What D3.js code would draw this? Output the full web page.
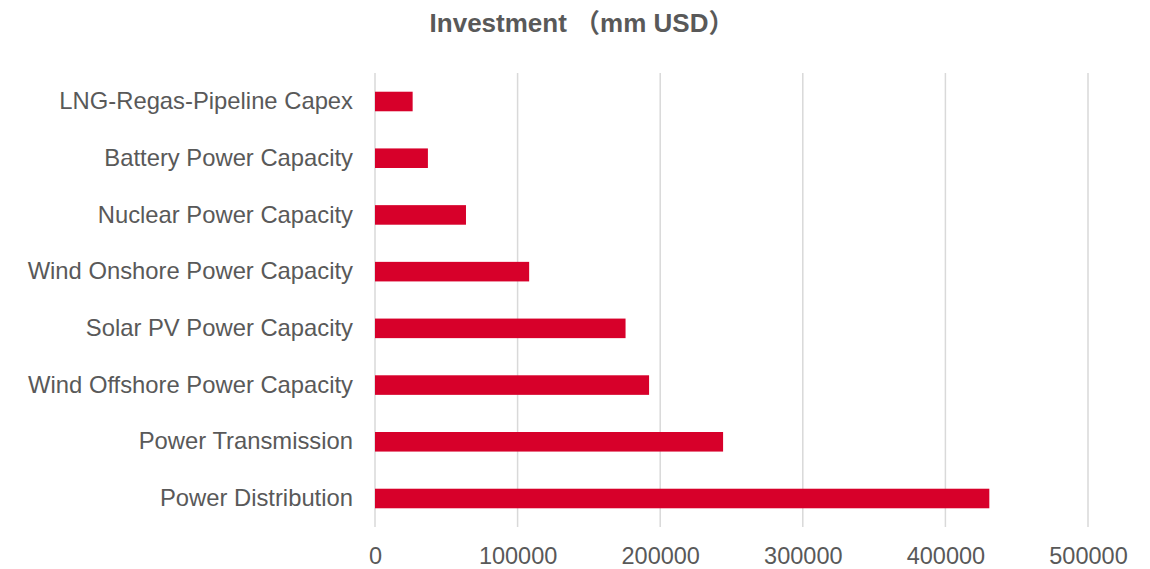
<!DOCTYPE html>
<html>
<head>
<meta charset="utf-8">
<script src="https://cdn.jsdelivr.net/npm/d3@7"></script>
<style>
  html, body { margin: 0; padding: 0; background: #fff; }
  svg { display: block; font-family: "Liberation Sans", Arial, "Noto Sans CJK SC", sans-serif; }
</style>
</head>
<body>
<svg id="chart" width="1150" height="569"></svg>
<script>
// Investment by category (mm USD), top to bottom
const categories = [
  "LNG-Regas-Pipeline Capex",
  "Battery Power Capacity",
  "Nuclear Power Capacity",
  "Wind Onshore Power Capacity",
  "Solar PV Power Capacity",
  "Wind Offshore Power Capacity",
  "Power Transmission",
  "Power Distribution"
];
const investment = [26400, 37100, 63800, 108100, 175700, 192200, 244100, 430800];
const xTicks = [0, 100000, 200000, 300000, 400000, 500000];
const title = "Investment \uFF08mm USD\uFF09";

const svg = d3.select("#chart");
const margin = { left: 375, right: 62, top: 73, bottom: 42 };
const W = 1150, H = 569;

const x = d3.scaleLinear().domain([0, 500000]).range([margin.left, W - margin.right]);
const y = d3.scaleBand().domain(categories).range([margin.top, H - margin.bottom]).paddingInner(0.655).paddingOuter(0.33);

// vertical gridlines
svg.append("g")
  .selectAll("line")
  .data(xTicks)
  .join("line")
  .attr("x1", d => x(d)).attr("x2", d => x(d))
  .attr("y1", margin.top).attr("y2", H - margin.bottom)
  .attr("stroke", "#d9d9d9")
  .attr("stroke-width", 1.5);

// bars
svg.append("g")
  .selectAll("rect")
  .data(categories)
  .join("rect")
  .attr("x", x(0))
  .attr("y", d => y(d))
  .attr("width", (d, i) => x(investment[i]) - x(0))
  .attr("height", y.bandwidth())
  .attr("fill", "#d7002a");

// x axis labels
const xAxis = d3.axisBottom(x).tickValues(xTicks).tickSize(0).tickPadding(20).tickFormat(d3.format("d"));
const gx = svg.append("g").attr("transform", `translate(0,${H - margin.bottom})`).call(xAxis);
gx.select(".domain").remove();
gx.selectAll("text").attr("font-size", 23.5).attr("fill", "#595959").attr("font-family", null);

// category labels
const yAxis = d3.axisLeft(y).tickSize(0).tickPadding(22);
const gy = svg.append("g").attr("transform", `translate(${margin.left},0)`).call(yAxis);
gy.select(".domain").remove();
gy.selectAll("text").attr("font-size", 23.8).attr("fill", "#595959").attr("font-family", null);

// title
svg.append("text")
  .attr("x", 582).attr("y", 32)
  .attr("text-anchor", "middle")
  .attr("font-size", 26)
  .attr("font-weight", "bold")
  .attr("fill", "#595959")
  .text(title);
</script>
</body>
</html>
